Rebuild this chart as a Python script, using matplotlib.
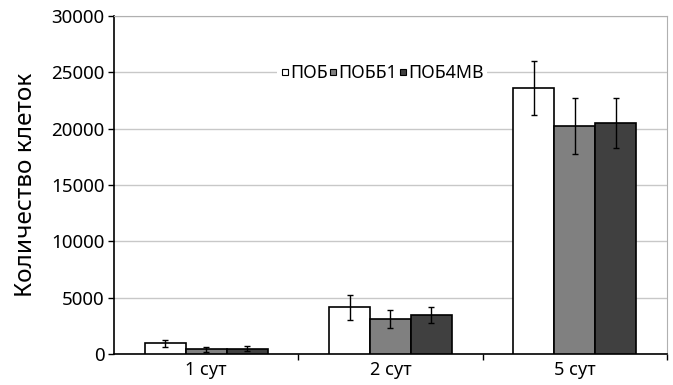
import matplotlib.pyplot as plt
import numpy as np
from matplotlib.lines import Line2D

plt.rcParams['font.family'] = ['Noto Sans', 'DejaVu Sans']

# data
days = ['1 сут', '2 сут', '5 сут']
series = ['ПОБ', 'ПОББ1', 'ПОБ4МВ']
pob = [950, 4140, 23640]
pob_err = [330, 1100, 2400]
pobb1 = [410, 3080, 20240]
pobb1_err = [250, 800, 2500]
pob4mv = [480, 3460, 20530]
pob4mv_err = [240, 740, 2200]
colors = ['#ffffff', '#808080', '#404040']

fig = plt.figure(figsize=(6.73, 3.85), dpi=100)
ax = fig.add_axes([0.1694, 0.0805, 0.8216, 0.8775])

x = np.arange(len(days))
w = 0.222
vals = [pob, pobb1, pob4mv]
errs = [pob_err, pobb1_err, pob4mv_err]
for i, (v, e, c) in enumerate(zip(vals, errs, colors)):
    ax.bar(x + (i - 1) * w, v, w, color=c, edgecolor='black', linewidth=1.2, zorder=3)
    ax.errorbar(x + (i - 1) * w, v, yerr=e, fmt='none', ecolor='black',
                elinewidth=1.0, capsize=2.5, capthick=1.0, zorder=4)

ax.set_xlim(-0.5, 2.5)
ax.set_ylim(0, 30000)
ax.set_yticks(np.arange(0, 30001, 5000))
ax.yaxis.grid(True, color='#c8c8c8', linewidth=1.0, zorder=0)
ax.set_axisbelow(True)

# category labels centred, ticks at the boundaries
ax.set_xticks([0.5, 1.5, 2.5])
ax.set_xticklabels([])
ax.set_xticks(x, minor=True)
ax.set_xticklabels(days, minor=True, fontsize=13)
ax.tick_params(axis='x', which='minor', length=0, pad=5)
ax.tick_params(axis='x', which='major', length=4, width=1, direction='out')
ax.tick_params(axis='y', length=4, width=1, direction='out', labelsize=13.5, pad=3)

ax.spines['left'].set_color('black')
ax.spines['bottom'].set_color('black')
ax.spines['left'].set_linewidth(1.2)
ax.spines['bottom'].set_linewidth(1.2)
ax.spines['top'].set_color('#b0b0b0')
ax.spines['right'].set_color('#b0b0b0')

ax.set_ylabel('Количество клеток', fontsize=17.5, labelpad=9)

handles = [Line2D([], [], marker='s', linestyle='none', markersize=5,
                  markerfacecolor=c, markeredgecolor='black', markeredgewidth=0.8)
           for c in colors]
leg = ax.legend(handles, series, ncol=3, loc='center', bbox_to_anchor=(0.485, 0.831),
                frameon=True, fancybox=False, edgecolor='none', framealpha=1,
                fontsize=12.8, handlelength=0.5, handletextpad=0.05,
                columnspacing=0.05, borderpad=0.2)

fig.savefig('out.png', dpi=100)
